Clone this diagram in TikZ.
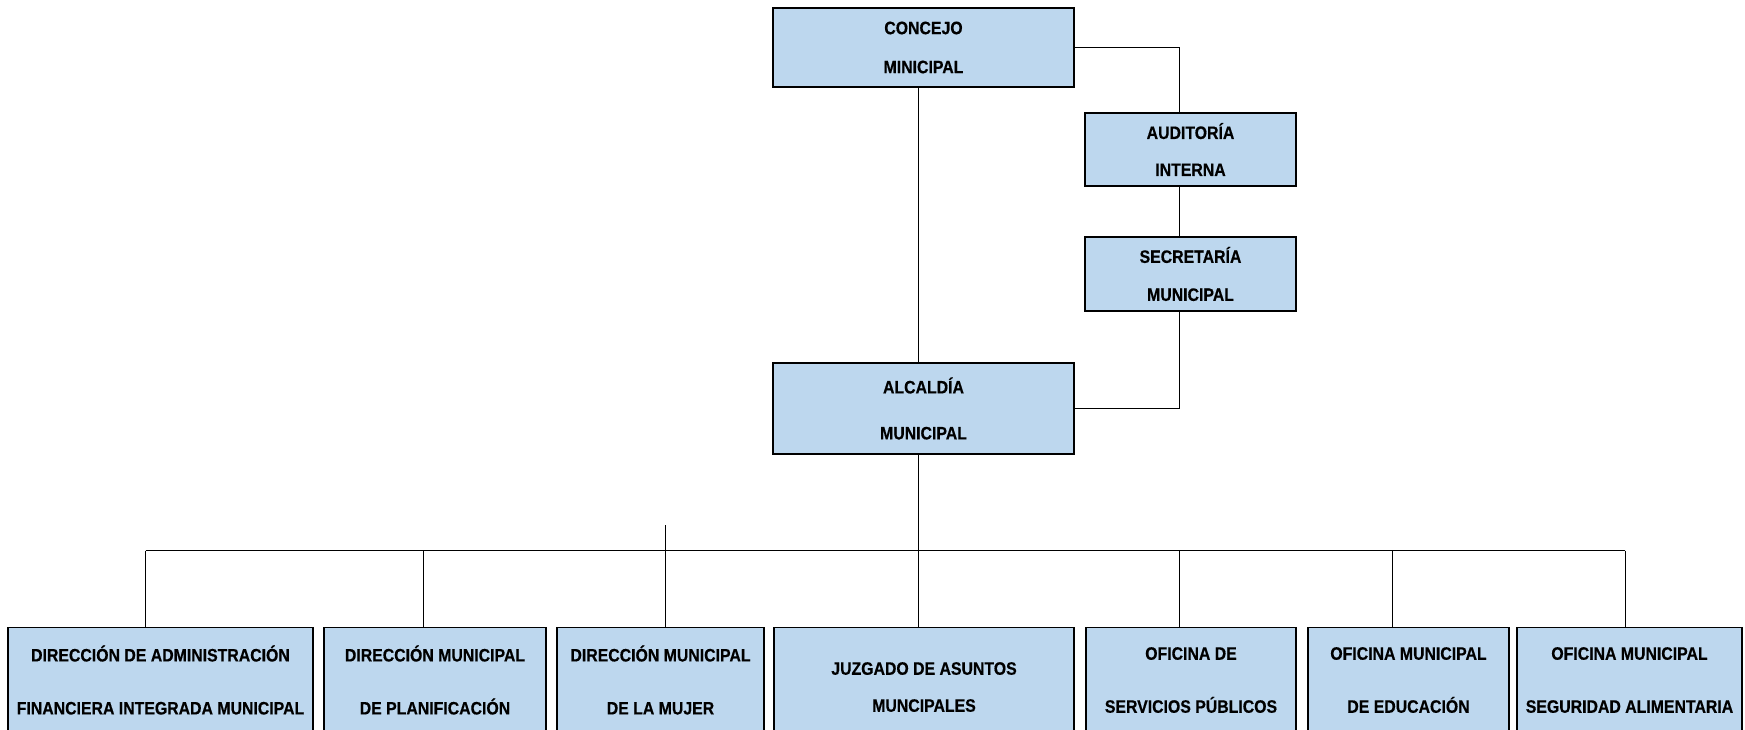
\documentclass[tikz,border=0pt]{standalone}
\usepackage{fontspec}
\setmainfont{Liberation Sans}[FakeStretch=0.88, BoldFeatures={FakeBold=0.5}]
\definecolor{unitblue}{HTML}{BDD7EE}
\tikzset{unit/.style = {draw, fill = unitblue, line width = 1.1pt, inner sep = 0, align = center, font = \bfseries\fontsize{18}{38}\selectfont}}
\tikzset{office/.style = {unit, anchor = north, minimum height = 105pt, font = \bfseries\fontsize{18}{53}\selectfont}}
\tikzset{link/.style = {line width = 1pt}}

\begin{document}
\begin{tikzpicture}[x = 1pt, y = -1pt]
    \useasboundingbox (0, 0) rectangle (1745, 730);
    \node [unit, minimum width = 301pt, minimum height = 79pt, font = \bfseries\fontsize{18}{39}\selectfont] (concejo) at (923.5, 47.5) {CONCEJO\\MINICIPAL};
    \node [unit, minimum width = 211pt, minimum height = 73pt, font = \bfseries\fontsize{18}{37}\selectfont] (auditoria) at (1190.5, 149.5) {AUDITORÍA\\INTERNA};
    \node [unit, minimum width = 211pt, minimum height = 74pt] (secretaria) at (1190.5, 274) {SECRETARÍA\\MUNICIPAL};
    \node [unit, minimum width = 301pt, minimum height = 91pt, font = \bfseries\fontsize{18}{46}\selectfont] (alcaldia) at (923.5, 408.5) {ALCALDÍA\\MUNICIPAL};
    \node [office, minimum width = 305pt] (dafim) at (160.5, 627) {DIRECCIÓN DE ADMINISTRACIÓN\\FINANCIERA INTEGRADA MUNICIPAL};
    \node [office, minimum width = 222pt] (dmp) at (435, 627) {DIRECCIÓN MUNICIPAL\\DE PLANIFICACIÓN};
    \node [office, minimum width = 207pt] (dmm) at (660.5, 627) {DIRECCIÓN MUNICIPAL\\DE LA MUJER};
    \node [office, minimum width = 300pt, minimum height = 119pt, font = \bfseries\fontsize{18}{37}\selectfont] (juzgado) at (924, 627) {JUZGADO DE ASUNTOS\\MUNCIPALES};
    \node [office, minimum width = 210pt] (ofsp) at (1191, 627) {OFICINA DE\\SERVICIOS PÚBLICOS};
    \node [office, minimum width = 201pt] (ome) at (1408.5, 627) {OFICINA MUNICIPAL\\DE EDUCACIÓN};
    \node [office, minimum width = 225pt] (omsa) at (1629.5, 627) {OFICINA MUNICIPAL\\SEGURIDAD ALIMENTARIA};
    \coordinate (trunk) at (918, 0);
    \coordinate (side) at (1179, 0);
    \coordinate (stub) at (665.7, 525);
    \draw [link] (concejo.south -| trunk) -- (alcaldia.north -| trunk);
    \draw [link] (concejo.east) -| (side |- auditoria.north);
    \draw [link] (auditoria.south -| side) -- (secretaria.north -| side);
    \draw [link] (secretaria.south -| side) |- (alcaldia.east);
    \draw [link] (alcaldia.south -| trunk) -- (juzgado.north -| trunk);
    \foreach \n/\dx in {dafim/145.7, dmp/423, dmm/665.7, juzgado/918, ofsp/1179, ome/1392, omsa/1625}{
        \coordinate (d\n) at (\dx, 550.5);
        \draw [link] (d\n) -- (d\n |- \n.north);
    }
    \draw [link] (ddafim) -- (domsa);
    \draw [link] (stub) -- (stub |- dmm.north);
\end{tikzpicture}
\end{document}
